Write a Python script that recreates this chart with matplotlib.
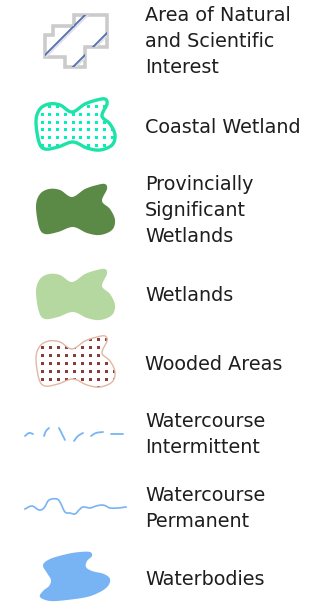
import numpy as np
import matplotlib
matplotlib.use("Agg")
import matplotlib.pyplot as plt
from matplotlib.patches import Polygon

# legend entries: text lines and first baseline (px from top)
labels = [
    ["Area of Natural", "and Scientific", "Interest"],
    ["Coastal Wetland"],
    ["Provincially", "Significant", "Wetlands"],
    ["Wetlands"],
    ["Wooded Areas"],
    ["Watercourse", "Intermittent"],
    ["Watercourse", "Permanent"],
    ["Waterbodies"],
]
baselines = [21, 133, 190, 301, 370, 427, 501, 585]
line_step = 26

# swatch colours
ansi_edge = "#cbcbcb"
ansi_hatch = "#5a72b0"
coastal_edge = "#1ee3a6"
coastal_dot = "#00f0c0"
psw_fill = "#5b8a46"
wet_fill = "#b5d8a0"
wood_edge = "#e2b6a4"
wood_dot = "#8c3b3b"
water_blue = "#78b4f4"

# generic wetland blob outline (px, relative to swatch row offset)
blob_x = [36, 40, 49, 60, 72, 85, 97, 105, 107, 102, 110, 115, 112, 100, 87, 73, 58, 45, 39]
blob_y = [36, 24, 19, 20, 27, 19, 15, 14, 19, 31, 39, 50, 60, 65, 63, 57, 62, 64, 57]
blob_offsets = [85, 170, 255, 322]

# ANSI stepped outline
ansi_x = [74, 107, 107, 85, 85, 65, 65, 45, 45, 53, 53, 74]
ansi_y = [15, 15, 47, 47, 67, 67, 57, 57, 35, 35, 26, 26]

# watercourse traces
inter_segs = [
    ([25, 29, 33], [436, 433, 434]),
    ([44, 46, 49], [436, 431, 428]),
    ([59, 62, 65], [428, 434, 440]),
    ([74, 78, 83], [441, 436, 433]),
    ([91, 96, 103], [436, 433, 432]),
    ([111, 117, 123], [434, 434, 434]),
]
perm_x = [25, 32, 39, 44, 48, 52, 57, 60, 65, 70, 75, 79, 83, 90, 96, 102, 106, 110, 118, 126]
perm_y = [509, 506, 510, 508, 501, 499, 499, 502, 512, 513, 514, 510, 507, 508, 506, 505, 506, 508, 508, 507]

water_x = [43, 50, 67, 80, 90, 92, 87, 86, 92, 104, 110, 108, 100, 87, 67, 50, 40, 43, 49, 51, 47]
water_y = [565, 559, 554, 552, 552, 556, 561, 567, 571, 574, 579, 586, 592, 597, 600, 601, 597, 591, 586, 580, 573]


def catmull(p, closed, n):
    m = len(p)
    t = np.linspace(0, 1, n, endpoint=False)[:, None]
    rng = range(m) if closed else range(1, m - 2)
    out = []
    for i in rng:
        p0, p1, p2, p3 = p[i - 1], p[i], p[(i + 1) % m], p[(i + 2) % m]
        out.append(0.5 * ((2 * p1) + (-p0 + p2) * t + (2 * p0 - 5 * p1 + 4 * p2 - p3) * t ** 2
                          + (-p0 + 3 * p1 - 3 * p2 + p3) * t ** 3))
    if not closed:
        out.append(p[-2][None, :])
    return np.vstack(out)


def smooth_closed(xs, ys, n=12):
    return catmull(np.column_stack([xs, ys]).astype(float), True, n)


def smooth_open(xs, ys, n=10):
    p = np.column_stack([xs, ys]).astype(float)
    return catmull(np.vstack([p[0], p, p[-1]]), False, n)


def dot_grid(ax, patch, color, step, size, x0, y0):
    gx, gy = np.meshgrid(np.arange(x0, 118, step), np.arange(y0, y0 + 60, step))
    # marker size in points: px * 72 / 100
    sc = ax.scatter(gx.ravel(), gy.ravel(), marker="s", s=(size * 0.72) ** 2, color=color, lw=0)
    sc.set_clip_path(patch)


fig = plt.figure(figsize=(3.18, 6.05), dpi=100)
ax = fig.add_axes([0, 0, 1, 1])
ax.set_xlim(0, 318)
ax.set_ylim(605, 0)
ax.axis("off")

# ANSI
ansi = Polygon(np.column_stack([ansi_x, ansi_y]), closed=True, fc="white", ec="none")
ax.add_patch(ansi)
for c in (100, 140):
    xs = np.array([20, 130])
    ln2, = ax.plot(xs, c + 3 - xs, color="#dde0e8", lw=1.2)
    ln2.set_clip_path(ansi)
    ln, = ax.plot(xs, c - xs, color=ansi_hatch, lw=1.4)
    ln.set_clip_path(ansi)
ax.add_patch(Polygon(np.column_stack([ansi_x, ansi_y]), closed=True, fill=False, ec=ansi_edge, lw=2.6,
                     joinstyle="miter"))

# wetland blobs
outline = smooth_closed(blob_x, blob_y)
coastal = Polygon(outline + [0, blob_offsets[0]], closed=True, fc="white", ec="none")
ax.add_patch(coastal)
dot_grid(ax, coastal, coastal_dot, 7.8, 3.0, 41.5, blob_offsets[0] + 21)
ax.add_patch(Polygon(outline + [0, blob_offsets[0]], closed=True, fill=False, ec=coastal_edge, lw=2.4))

ax.add_patch(Polygon(outline + [0, blob_offsets[1]], closed=True, fc=psw_fill, ec="none"))
ax.add_patch(Polygon(outline + [0, blob_offsets[2]], closed=True, fc=wet_fill, ec="none"))

wood = Polygon(outline + [0, blob_offsets[3]], closed=True, fc="white", ec="none")
ax.add_patch(wood)
dot_grid(ax, wood, wood_dot, 8.0, 3.0, 41.5, blob_offsets[3] + 17)
ax.add_patch(Polygon(outline + [0, blob_offsets[3]], closed=True, fill=False, ec=wood_edge, lw=1.0))

# watercourses
for sx, sy in inter_segs:
    s = smooth_open(sx, sy)
    ax.plot(s[:, 0], s[:, 1], color=water_blue, lw=1.3, solid_capstyle="round")
s = smooth_open(perm_x, perm_y)
ax.plot(s[:, 0], s[:, 1], color=water_blue, lw=1.2)

# waterbody
ax.add_patch(Polygon(smooth_closed(water_x, water_y), closed=True, fc=water_blue, ec="none"))

# labels
for lines, b in zip(labels, baselines):
    for i, t in enumerate(lines):
        ax.text(145, b + i * line_step, t, fontsize=13.8, color="#1e1e1e", va="baseline", ha="left",
                family="DejaVu Sans")

fig.savefig("out.png", dpi=100)
